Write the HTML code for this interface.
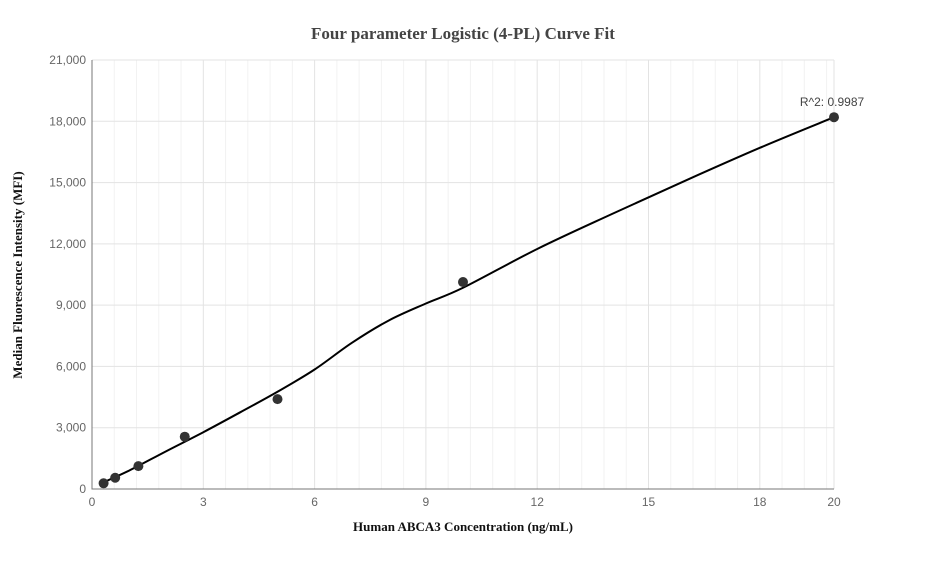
<!DOCTYPE html>
<html><head><meta charset="utf-8"><style>
body{margin:0;background:#fff;font-family:"Liberation Sans",sans-serif}
</style></head><body>
<svg id="chart" width="927" height="560">
<text x="463" y="39" text-anchor="middle" font-family="Liberation Serif" font-weight="bold" font-size="17" fill="#444">Four parameter Logistic (4-PL) Curve Fit</text>
<text x="463" y="531" text-anchor="middle" font-family="Liberation Serif" font-weight="bold" font-size="13" fill="#111">Human ABCA3 Concentration (ng/mL)</text>
<text transform="translate(22,275) rotate(-90)" text-anchor="middle" font-family="Liberation Serif" font-weight="bold" font-size="13" fill="#111">Median Fluorescence Intensity (MFI)</text>
<g id="grid"></g><g id="axes"></g><g id="marks"></g>
</svg>
<script>
const xTicks=[0,3,6,9,12,15,18,20];
const yTicks=[0,3000,6000,9000,12000,15000,18000,21000];
const pointX=[0.3125,0.625,1.25,2.5,5,10,20];
const pointY=[280,550,1120,2560,4400,10130,18200];
const curveX=[0.3,1,2,3,4,5,6,7,8,9,10,12,14,16,18,20];
const curveY=[320,900,1850,2780,3760,4760,5850,7150,8250,9080,9850,11750,13450,15100,16700,18200];
const r2Label="R^2: 0.9987";
const X0=92,X1=834,Y0=489,Y1=60;
const sx=v=>X0+(v-0)/(20-0)*(X1-X0);
const sy=v=>Y0-(v/21000)*(Y0-Y1);
const NS="http://www.w3.org/2000/svg";
function mk(t,p,a){const e=document.createElementNS(NS,t);for(const k in a)e.setAttribute(k,a[k]);p.appendChild(e);return e;}
const grid=document.getElementById('grid'),axes=document.getElementById('axes'),marks=document.getElementById('marks');
for(let v=0.6;v<20;v+=0.6){if(Math.abs(v/3-Math.round(v/3))<1e-6)continue;
const l=mk('line',grid,{x1:sx(v),x2:sx(v),y1:Y1,y2:Y0,stroke:'#f2f2f2'});

}
xTicks.forEach(v=>{const l=mk('line',grid,{x1:sx(v),x2:sx(v),y1:Y1,y2:Y0,stroke:'#e3e3e3'});


const t=mk('text',axes,{x:sx(v),y:Y0+17,'text-anchor':'middle','font-size':12,fill:'#666'});t.textContent=v;

});
yTicks.forEach(v=>{const l=mk('line',grid,{x1:X0,x2:X1,y1:sy(v),y2:sy(v),stroke:'#e3e3e3'});


const t=mk('text',axes,{x:X0-6,y:sy(v)+4,'text-anchor':'end','font-size':12,fill:'#666'});t.textContent=v.toLocaleString('en-US');

});
const ax=mk('path',axes,{d:`M${X0},${Y1}V${Y0}H${X1}`,stroke:'#777',fill:'none'});


const P=curveX.map((x,i)=>[sx(x),sy(curveY[i])]);
let d=`M${P[0][0]},${P[0][1]}`;
for(let i=0;i<P.length-1;i++){const p0=P[Math.max(0,i-1)],p1=P[i],p2=P[i+1],p3=P[Math.min(P.length-1,i+2)];
d+=`C${p1[0]+(p2[0]-p0[0])/6},${p1[1]+(p2[1]-p0[1])/6} ${p2[0]-(p3[0]-p1[0])/6},${p2[1]-(p3[1]-p1[1])/6} ${p2[0]},${p2[1]}`;}
const c=mk('path',marks,{d,stroke:'#000',fill:'none','stroke-width':2});


pointX.forEach((x,i)=>{const p=mk('circle',marks,{cx:sx(x),cy:sy(pointY[i]),r:5,fill:'#333'});

});
const r=mk('text',marks,{x:sx(20)-2,y:sy(18200)-11,'text-anchor':'middle','font-size':12,fill:'#444'});r.textContent=r2Label;


</script>
</body></html>
